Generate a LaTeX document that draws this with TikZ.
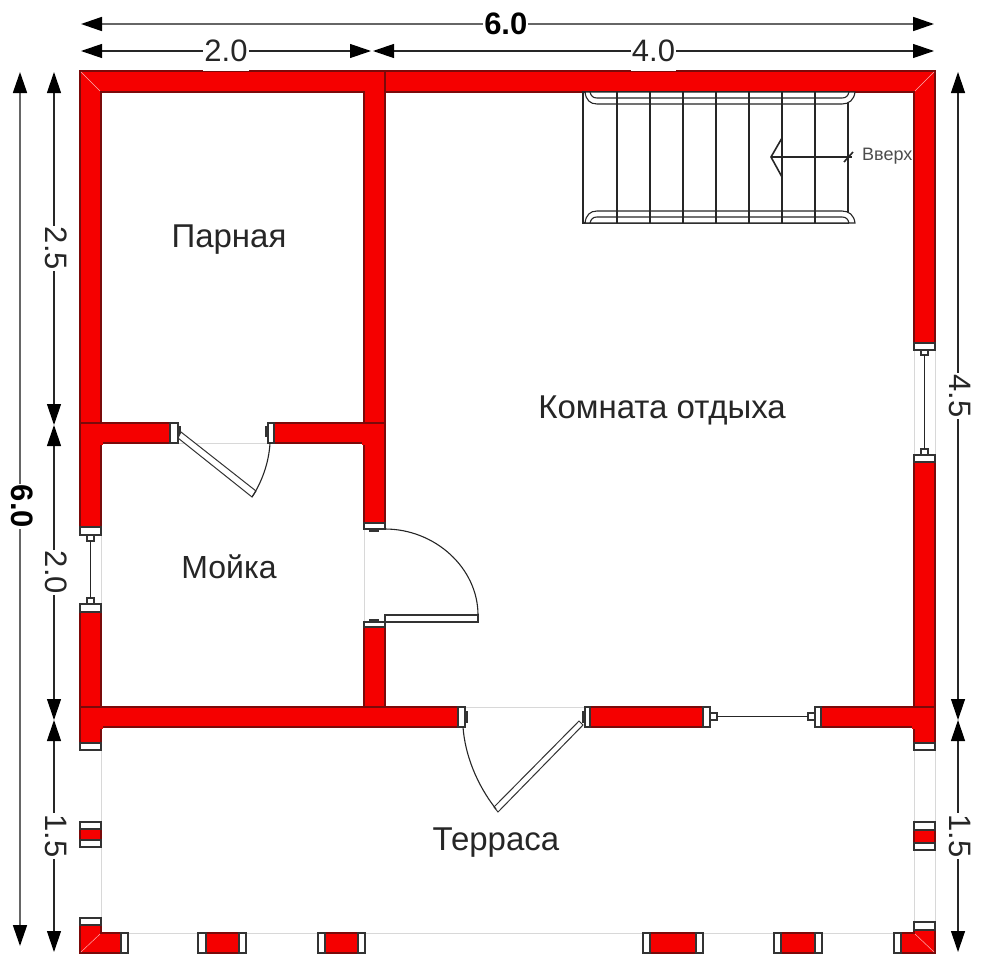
\documentclass[tikz,border=0pt]{standalone}
\usepackage{fontspec}
\setmainfont{Liberation Sans}
\usetikzlibrary{arrows.meta}
\definecolor{wallred}{HTML}{F50000}
\definecolor{walledge}{HTML}{7A0A0A}
\definecolor{openline}{HTML}{D8D8D8}
\tikzset{
  wall/.style={fill=wallred, draw=walledge, line width=1.1pt},
  jamb/.style={fill=white, draw=black!80, line width=1.2pt},
  openedge/.style={draw=openline, line width=1pt},
  thinline/.style={draw=black!85, line width=1.1pt},
  dimline/.style={draw=black!85, line width=1.2pt,
    {Triangle[length=21pt,width=14pt,color=black]}-{Triangle[length=21pt,width=14pt,color=black]}},
  dimall/.style={dimline, draw=black!60, line width=1.7pt},
  dimlabel/.style={fill=white, inner sep=1pt, text=black!85, font=\fontsize{31}{31}\selectfont},
  dimbold/.style={fill=white, inner sep=1pt, text=black, font=\fontsize{31}{31}\selectfont\bfseries},
  roomlabel/.style={text=black!85, font=\fontsize{33}{33}\selectfont},
}
% frame across a wall: x1, x2, y1, y2
\def\hjamb#1#2#3#4{\draw[jamb] (#1,#3) rectangle (#2,#4);}
\begin{document}
\begin{tikzpicture}[x=1pt,y=-1pt]
  \useasboundingbox (0,0) rectangle (1000,953);

  % openings, faint edges
  \draw[openedge] (178,443) -- (268,443);
  \draw[openedge] (101,535) -- (101,604);
  \draw[openedge] (364,529) -- (364,622);
  \draw[openedge] (465,707) -- (585,707);
  \draw[openedge] (914,350) -- (914,455);
  \draw[openedge] (935,350) -- (935,455);
  \draw[openedge] (101,750) -- (101,918);
  \draw[openedge] (914,750) -- (914,922);
  \draw[openedge] (935,750) -- (935,922);
  \draw[openedge] (128,933) -- (894,933);

  % walls
  \draw[wall] (80,71) rectangle (385,92);
  \draw[wall] (385,71) rectangle (935,92);
  \draw[wall] (80,92) rectangle (101,527);
  \draw[wall] (914,92) rectangle (935,343);
  \draw[wall] (364,92) rectangle (385,523);
  \draw[wall] (80,423) rectangle (170,443);
  \draw[wall] (274,423) rectangle (385,443);
  \draw[wall] (80,612) rectangle (101,743);
  \draw[wall] (364,627) rectangle (385,707);
  \draw[wall] (914,462) rectangle (935,743);
  \draw[wall] (80,707) rectangle (458,727);
  \draw[wall] (590,707) rectangle (703,727);
  \draw[wall] (821,707) rectangle (935,727);
  % wall joints, no edge inside
  \fill[wallred] (81,424) rectangle (103,445);
  \fill[wallred] (362,424) rectangle (384,445);
  \fill[wallred] (81,708) rectangle (103,729);
  \fill[wallred] (912,708) rectangle (934,729);
  \fill[wallred] (365,72) rectangle (384,94);
  \fill[wallred] (81,72) rectangle (100,93);
  \fill[wallred] (915,72) rectangle (934,93);
  \draw[white!70!wallred, line width=.5pt] (81,72) -- (100,91);
  \draw[white!70!wallred, line width=.5pt] (934,72) -- (915,91);

  % terrace piers
  \draw[wall] (80,824) rectangle (101,847);
  \draw[wall] (914,824) rectangle (935,848);
  \draw[wall] (206,933) rectangle (239,953);
  \draw[wall] (325,933) rectangle (358,953);
  \draw[wall] (650,933) rectangle (696,953);
  \draw[wall] (781,933) rectangle (815,953);
  \draw[wall] (80,925) -- (101,925) -- (101,933) -- (121,933) -- (121,953) -- (80,953) -- cycle;
  \draw[wall] (935,930) -- (914,930) -- (914,933) -- (901,933) -- (901,953) -- (935,953) -- cycle;
  \draw[white!70!wallred, line width=.5pt] (81,952) -- (100,934);
  \draw[white!70!wallred, line width=.5pt] (934,952) -- (915,934);

  % jambs at pier ends
  \hjamb{80}{101}{743}{750}
  \hjamb{914}{935}{743}{750}
  \hjamb{80}{101}{822}{829}
  \hjamb{80}{101}{840}{847}
  \hjamb{914}{935}{822}{830}
  \hjamb{914}{935}{843}{850}
  \hjamb{80}{101}{918}{925}
  \hjamb{914}{935}{922}{930}
  \hjamb{121}{128}{933}{953}
  \hjamb{198}{206}{933}{953}
  \hjamb{239}{246}{933}{953}
  \hjamb{318}{325}{933}{953}
  \hjamb{358}{365}{933}{953}
  \hjamb{643}{650}{933}{953}
  \hjamb{696}{703}{933}{953}
  \hjamb{774}{781}{933}{953}
  \hjamb{815}{822}{933}{953}
  \hjamb{894}{901}{933}{953}

  % window, left wall
  \hjamb{80}{101}{527}{535}
  \hjamb{80}{101}{604}{612}
  \draw[jamb] (87,535) rectangle (94,541);
  \draw[jamb] (87,598) rectangle (94,604);
  \draw[thinline] (90.5,541) -- (90.5,598);

  % window, right wall
  \hjamb{914}{935}{343}{350}
  \hjamb{914}{935}{455}{462}
  \draw[jamb] (921,350) rectangle (928,355);
  \draw[jamb] (921,449) rectangle (928,455);
  \draw[thinline] (924.5,355) -- (924.5,449);

  % window, bottom wall
  \hjamb{703}{710}{707}{727}
  \hjamb{815}{821}{707}{727}
  \draw[jamb] (710,713) rectangle (717,720);
  \draw[jamb] (808,713) rectangle (815,720);
  \draw[thinline] (717,716.5) -- (808,716.5);

  % door, Parnaya
  \draw[jamb] (178,427) rectangle (180,436);
  \draw[jamb] (266,427) rectangle (268,436);
  \hjamb{170}{178}{423}{443}
  \hjamb{268}{274}{423}{443}
  \draw[jamb, line width=1pt] (178,438) -- (252,497) -- (256,491) -- (181,432) -- cycle;
  \draw[thinline] (270,443) .. controls (269,462) and (262,482) .. (252,497);

  % door, room
  \draw[jamb] (370,529) rectangle (378,531);
  \draw[jamb] (370,620) rectangle (378,622);
  \hjamb{364}{385}{523}{529}
  \hjamb{364}{385}{622}{627}
  \draw[jamb] (385,615) rectangle (478,622);
  \draw[thinline] (385,529) .. controls (435,529) and (478,568) .. (478,615);

  % door, terrace
  \draw[jamb] (465,712) rectangle (467,722);
  \draw[jamb] (583,712) rectangle (585,722);
  \hjamb{458}{465}{707}{727}
  \hjamb{585}{590}{707}{727}
  \draw[jamb, line width=1pt] (583,725) -- (498,812) -- (494,807) -- (579,721) -- cycle;
  \draw[thinline] (463,727) .. controls (465,755) and (477,785) .. (496,809);

  % stairs
  \draw[thinline] (583,92) rectangle (848,223);
  \draw[thinline, fill=white] (585,92) .. controls (586,100) and (590,104) .. (597,104) -- (842,104)
     .. controls (849,104) and (854,100) .. (855,92) -- cycle;
  \draw[thinline] (590,92) .. controls (591,96) and (593,98) .. (597,98) -- (842,98)
     .. controls (846,98) and (848,96) .. (849,92);
  \draw[thinline, fill=white] (585,223) .. controls (586,215) and (590,211) .. (597,211) -- (842,211)
     .. controls (849,211) and (854,215) .. (855,223) -- cycle;
  \draw[thinline] (590,223) .. controls (591,219) and (593,217) .. (597,217) -- (842,217)
     .. controls (846,217) and (848,219) .. (849,223);
  \foreach \stairx in {617,650,683,716,749,782,815}
    \draw[thinline] (\stairx,92) -- (\stairx,223);
  \coordinate (stairtail) at (852,157);
  \coordinate (stairtip) at (771,157);
  \draw[thinline] (stairtail) -- (stairtip);
  \draw[thinline, line width=1.6pt] (782,138) -- (stairtip) -- (782,177);
  \draw[thinline, line width=1.6pt] (844,162) -- (853,152);
  \node[anchor=west, inner sep=0pt, text=black!70, font=\fontsize{18}{18}\selectfont] (upstairs) at (862,156) {Вверх};

  % rooms
  \node[roomlabel] (steamroom) at (229,240) {Парная};
  \node[roomlabel] (restroom) at (662,410) {Комната отдыха};
  \node[roomlabel, font=\fontsize{32}{32}\selectfont] (washroom) at (229,567) {Мойка};
  \node[roomlabel] (terrace) at (496,843) {Терраса};

  % dimensions
  \coordinate (topa) at (81,24);
  \coordinate (topb) at (934,24);
  \draw[dimall] (topa) -- node[dimbold, pos=.498] (widthall) {6.0} (topb);
  \coordinate (topc) at (81,51);
  \coordinate (topd) at (371,51);
  \coordinate (tope) at (373,51);
  \coordinate (topf) at (934,51);
  \draw[dimline] (topc) -- node[dimlabel, pos=.5, minimum height=40pt] (widthleft) {2.0} (topd);
  \draw[dimline] (tope) -- node[dimlabel, pos=.5, minimum height=40pt] (widthright) {4.0} (topf);

  \coordinate (lefta) at (20,72);
  \coordinate (leftb) at (20,946);
  \draw[dimall] (lefta) -- node[dimbold, xshift=2pt, rotate=-90, pos=.497] (heightall) {6.0} (leftb);
  \coordinate (leftc) at (54,72);
  \coordinate (leftd) at (54,425);
  \coordinate (lefte) at (54,425);
  \coordinate (leftf) at (54,720);
  \coordinate (leftg) at (54,720);
  \coordinate (lefth) at (54,952);
  \draw[dimline] (leftc) -- node[dimlabel, xshift=2pt, rotate=-90] (heightsteam) {2.5} (leftd);
  \draw[dimline] (lefte) -- node[dimlabel, xshift=2pt, rotate=-90] (heightwash) {2.0} (leftf);
  \draw[dimline] (leftg) -- node[dimlabel, xshift=2pt, rotate=-90] (heightterrace) {1.5} (lefth);

  \coordinate (righta) at (958,72);
  \coordinate (rightb) at (958,720);
  \coordinate (rightc) at (958,720);
  \coordinate (rightd) at (958,952);
  \draw[dimline] (righta) -- node[dimlabel, xshift=2pt, rotate=-90] (heightroom) {4.5} (rightb);
  \draw[dimline] (rightc) -- node[dimlabel, xshift=2pt, rotate=-90] (heightporch) {1.5} (rightd);

\end{tikzpicture}
\end{document}
